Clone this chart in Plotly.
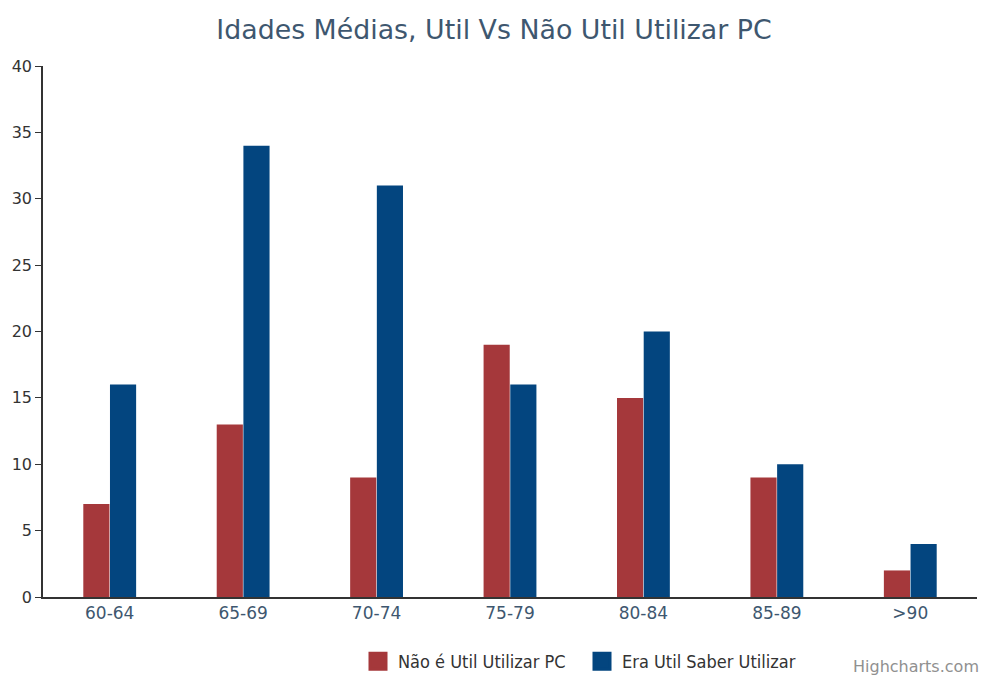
import plotly.graph_objects as go

categories = ["60-64", "65-69", "70-74", "75-79", "80-84", "85-89", ">90"]
nao_util = [7, 13, 9, 19, 15, 9, 2]
era_util = [16, 34, 31, 16, 20, 10, 4]
series_names = ["Não é Util Utilizar PC", "Era Util Saber Utilizar"]
series_colors = ["#A5383B", "#03457F"]
y_ticks = [0, 5, 10, 15, 20, 25, 30, 35, 40]

fig = go.Figure()
for name, vals, col in zip(series_names, [nao_util, era_util], series_colors):
    fig.add_trace(go.Bar(x=categories, y=vals, name=name, showlegend=False,
                         legendgroup=name,
                         marker=dict(color=col, line=dict(width=0))))
# legend entries (larger square swatches)
for name, col in zip(series_names, series_colors):
    fig.add_trace(go.Scatter(x=[None], y=[None], mode="markers", name=name,
                             legendgroup=name,
                             marker=dict(symbol="square", size=16, color=col,
                                         line=dict(color=col, width=3))))

fig.update_layout(
    width=982, height=675,
    margin=dict(l=43, r=5, t=66, b=78, autoexpand=False),
    paper_bgcolor="white", plot_bgcolor="white",
    barmode="group", bargap=0.6, bargroupgap=0.02,
    title=dict(text="Idades Médias, Util Vs Não Util Utilizar PC",
               x=494 / 982, xanchor="center", y=1 - 30 / 675, yanchor="middle",
               font=dict(family="DejaVu Sans", size=26.8, color="#3E576F")),
    font=dict(family="DejaVu Sans"),
    showlegend=True,
    legend=dict(orientation="h", xref="container", yref="container",
                x=358 / 982, xanchor="left", y=1 - 643 / 675, yanchor="top",
                entrywidth=179,
                font=dict(family="DejaVu Sans Condensed", size=18, color="#333333"),
                itemsizing="trace", traceorder="normal", bgcolor="rgba(0,0,0,0)"),
)
fig.update_xaxes(showline=True, linecolor="#333333", linewidth=1.5,
                 showgrid=False, ticks="", zeroline=False,
                 tickfont=dict(family="DejaVu Sans", size=17, color="#3E576F"))
fig.update_yaxes(range=[0, 40], tickvals=y_ticks, showline=True, linecolor="#333333",
                 linewidth=1.5, showgrid=False, ticks="outside", ticklen=6,
                 tickcolor="#333333", zeroline=False,
                 tickfont=dict(family="DejaVu Sans", size=16, color="#333333"))
fig.add_annotation(text="Highcharts.com", xref="paper", yref="paper",
                   x=(851 - 43) / 934, y=-(666 - 597) / 531, xanchor="left",
                   yanchor="middle", showarrow=False,
                   font=dict(family="DejaVu Sans", size=16, color="#909090"))
fig.write_html("out.html", config={"displayModeBar": False},
               post_script="document.body.style.margin='0';document.body.style.overflow='hidden';")
